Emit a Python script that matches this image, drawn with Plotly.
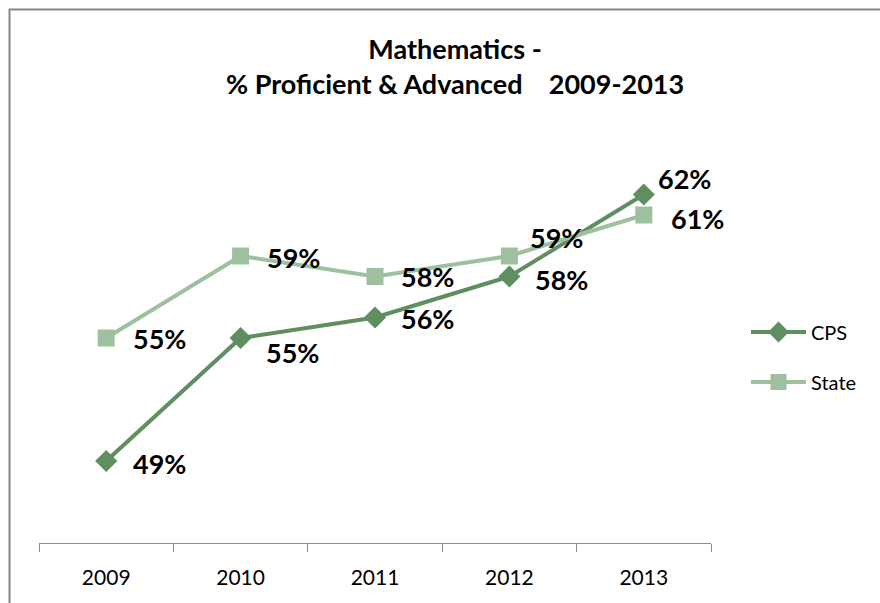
import plotly.graph_objects as go

years = ["2009", "2010", "2011", "2012", "2013"]
cps = [0.49, 0.55, 0.56, 0.58, 0.62]
state = [0.55, 0.59, 0.58, 0.59, 0.61]
cps_labels = ["49%", "55%", "56%", "58%", "62%"]
state_labels = ["55%", "59%", "58%", "59%", "61%"]

CPS_COLOR = "#5f8e61"
STATE_COLOR = "#9ec09f"
FONT = "Lato, 'Open Sans', sans-serif"

fig = go.Figure()
fig.add_trace(go.Scatter(
    x=years, y=cps, name="CPS", mode="lines+markers", legendgroup="a",
    line=dict(color=CPS_COLOR, width=4),
    marker=dict(symbol="diamond", size=17, color=CPS_COLOR),
))
fig.add_trace(go.Scatter(
    x=years, y=state, name="State", mode="lines+markers", legendgroup="b",
    line=dict(color=STATE_COLOR, width=4),
    marker=dict(symbol="square", size=17, color=STATE_COLOR),
))

# label offsets (pixels) relative to each point
cps_off = [(25, -2), (23, -14), (24, -1), (24, -3), (12, 16)]
state_off = [(25, 0), (24, -1), (24, 0), (19, 19), (25, -3)]

annotations = []
for ys, labs, offs in [(cps, cps_labels, cps_off), (state, state_labels, state_off)]:
    for i, (y, t, (dx, dy)) in enumerate(zip(ys, labs, offs)):
        annotations.append(dict(
            x=i, y=y, xref="x", yref="y", text="<b>" + t + "</b>", showarrow=False,
            xanchor="left", yanchor="middle", xshift=dx, yshift=dy,
            font=dict(family=FONT, size=27, color="black"),
        ))

annotations.append(dict(
    xref="paper", yref="paper", x=(455 - 39) / 672, y=(543 - 66) / 410,
    text="<b>Mathematics -<br>% Proficient &amp; Advanced&nbsp;&nbsp;&nbsp;&nbsp;2009-2013</b>",
    showarrow=False, xanchor="center", yanchor="middle",
    font=dict(family=FONT, size=27, color="black"),
))

fig.update_layout(
    width=880, height=603,
    margin=dict(l=39, r=169, t=133, b=60),
    paper_bgcolor="white", plot_bgcolor="white",
    showlegend=True,
    legend=dict(
        x=(746 - 39) / 672, y=(543 - 357) / 410, xanchor="left", yanchor="middle",
        font=dict(family=FONT, size=20, color="black"),
        itemwidth=55, tracegroupgap=21, bgcolor="rgba(0,0,0,0)",
    ),
    annotations=annotations,
    xaxis=dict(
        type="category", range=[-0.5, 4.5], showgrid=False, zeroline=False,
        showline=True, linecolor="#8c8c8c", linewidth=1,
        ticks="outside", tickson="boundaries", ticklen=8, tickcolor="#8c8c8c",
        tickfont=dict(family=FONT, size=21, color="black"),
        ticklabelstandoff=16,
        fixedrange=True,
    ),
    yaxis=dict(
        range=[0.45, 0.65], visible=False, showgrid=False, zeroline=False,
        fixedrange=True,
    ),
    shapes=[dict(
        type="rect", xref="paper", yref="paper",
        x0=(9.5 - 39) / 672, x1=(905 - 39) / 672,
        y0=(543 - 640) / 410, y1=(543 - 9.5) / 410,
        line=dict(color="#868686", width=2), fillcolor="rgba(0,0,0,0)", layer="below",
    )],
)

fig.write_html(
    "out.html",
    config={"displayModeBar": False},
    post_script="document.body.style.margin='0';document.body.style.overflow='hidden';",
)
